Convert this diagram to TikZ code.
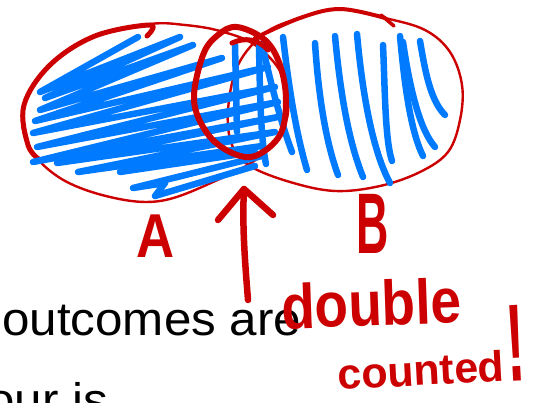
\documentclass[tikz,border=0pt]{standalone}
\usepackage{fontspec}
\setmainfont{Liberation Sans}
\newfontfamily\handfamily{Liberation Sans}
\definecolor{penred}{RGB}{204,0,0}
\definecolor{penblue}{RGB}{0,122,255}
\tikzset{
  redthin/.style={draw=penred, line width=2.4pt, line cap=round, line join=round},
  redthick/.style={draw=penred, line width=5pt, line cap=round, line join=round},
  redmarker/.style={draw=penred, line width=6.5pt, line cap=round, line join=round},
  bluemarker/.style={draw=penblue, line width=6.5pt, line cap=round, line join=round},
  hand/.style={text=penred, inner sep=0pt, font=\handfamily\bfseries},
  body/.style={text=black, inner sep=0pt, anchor=base west}
}
\begin{document}
\begin{tikzpicture}[x=1pt,y=-1pt]
\useasboundingbox (0,0) rectangle (540,402);
\fill[white] (0,0) rectangle (540,402);
\clip (0,0) rectangle (540,402);

% printed text underneath
\node[body] (txtone) at (2,335) {\fontsize{47}{56}\selectfont\scalebox{1.05}[1]{outcomes are}};
\node[body] (txttwo) at (-13,416) {\fontsize{47}{56}\selectfont\scalebox{1.05}[1]{our is}};

% ellipse A (thin outline + thick top-left stroke)
\draw[redthin] plot[smooth cycle, tension=0.6] coordinates {
  (150,24) (95,36) (50,65) (24,105) (28,145) (60,178) (110,197) (160,201)
  (213,182) (262,155) (287,118) (282,75) (255,45) (220,31) (185,25)};
\draw[redthick] plot[smooth, tension=0.6] coordinates {
  (147,36) (150,25) (95,36) (50,65) (24,105) (28,145) (40,160)};

% ellipse B (thin outline + thick top stroke)
\draw[redthin] plot[smooth cycle, tension=0.6] coordinates {
  (265,33) (300,18) (340,9) (385,18) (425,30) (450,52) (462,85) (460,120)
  (448,152) (420,172) (380,186) (335,191) (290,182) (250,166) (232,145)
  (228,110) (238,65)};
\draw[redthick, line width=4pt] plot[smooth, tension=0.6] coordinates {
  (255,38) (300,18) (340,9) (385,18)};
\draw[redthick, line width=3.5pt] (381,15) -- (394,26);

% blue hatching in A
\draw[bluemarker] plot coordinates {
  (138,37) (40,92) (180,37) (45,98) (193,45) (40,110) (222,58) (35,121)
  (268,67) (33,133) (275,87) (37,147) (278,102) (33,162) (278,117)
  (57,163) (275,132) (78,172) (262,146)};
\draw[bluemarker] plot coordinates {(255,152) (120,172) (138,168)};
\draw[bluemarker] plot coordinates {(262,156) (133,188) (165,183) (155,196) (255,166)};
% vertical strokes in the overlap
\draw[bluemarker] (235,45) -- (237,132);
\draw[bluemarker] (259,45) .. controls (260,100) and (261,140) .. (266,164);

% blue hatching in B
\draw[bluemarker] (262,44) .. controls (270,80) and (280,120) .. (292,152);
\draw[bluemarker] (283,37) .. controls (288,80) and (295,130) .. (307,170);
\draw[bluemarker] (315,43) .. controls (318,90) and (325,140) .. (338,175);
\draw[bluemarker] (335,36) .. controls (340,90) and (348,140) .. (363,177);
\draw[bluemarker] (357,34) .. controls (362,90) and (372,150) .. (390,183);
\draw[bluemarker] (383,45) .. controls (385,90) and (385,140) .. (392,161);
\draw[bluemarker] (400,36) .. controls (404,80) and (410,130) .. (423,156);
\draw[bluemarker] (403,42) .. controls (410,90) and (420,130) .. (435,147);
\draw[bluemarker] (420,41) .. controls (425,70) and (430,100) .. (445,115);

% small circle around the overlap
\draw[redmarker, line width=6pt] plot[smooth cycle, tension=0.6] coordinates {
  (237,27) (265,40) (280,65) (286,100) (280,135) (255,156) (230,152)
  (207,133) (194,100) (203,55) (218,35)};
\draw[redmarker, line width=5pt] (232,43) .. controls (245,37) and (258,39) .. (268,50);

% arrow
\coordinate (arrowtail) at (248,300);
\coordinate (arrowtip) at (244,189);
\coordinate (barbL) at (218,220);
\coordinate (barbR) at (273,215);
\draw[redmarker] (arrowtail) .. controls (245,262) and (242,225) .. (arrowtip);
\draw[redmarker] (barbL) -- (arrowtip) -- (barbR);

% handwritten labels
\node[hand] (labA) at (156,236) {\fontsize{62}{62}\selectfont\scalebox{0.85}[1]{A}};
\node[hand] (labB) at (373,224) {\fontsize{86}{86}\selectfont\scalebox{0.52}[1]{B}};
\node[hand, anchor=base west, rotate=2] (double) at (282,329)
  {\fontsize{55}{55}\selectfont\scalebox{1}[1.15]{double}};
\node[hand, anchor=base west, rotate=3] (counted) at (338,390)
  {\fontsize{43}{43}\selectfont counted\hspace{3pt}{\fontsize{110}{110}\selectfont\scalebox{0.5}[1]{!}}};
\end{tikzpicture}
\end{document}
